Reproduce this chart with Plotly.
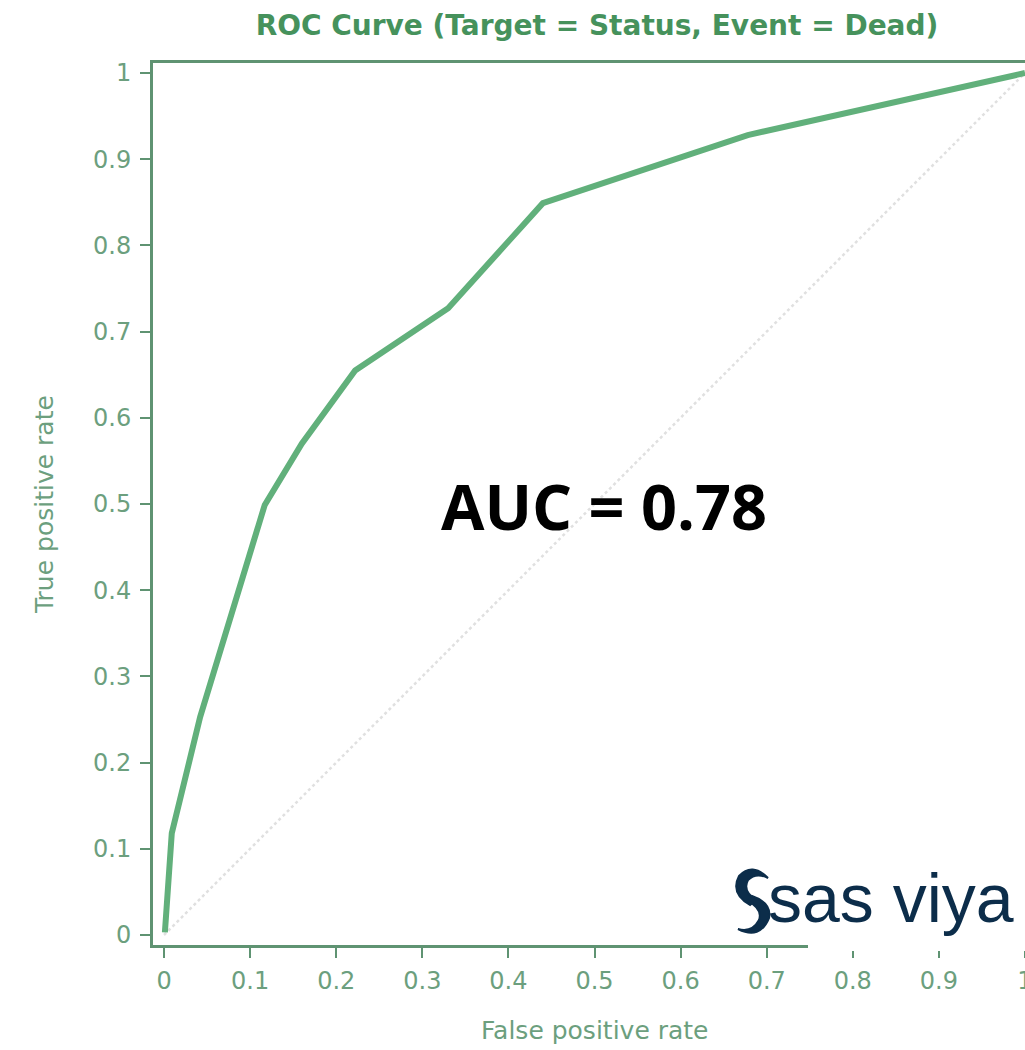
import plotly.graph_objects as go

# ROC curve data
fpr = [0.001, 0.009, 0.042, 0.117, 0.160, 0.222, 0.330, 0.440, 0.678, 1.0]
tpr = [0.003, 0.118, 0.253, 0.499, 0.570, 0.655, 0.727, 0.849, 0.928, 1.0]
diag_x = [0.0, 1.0]
diag_y = [0.0, 1.0]
tick_vals = [0, 0.1, 0.2, 0.3, 0.4, 0.5, 0.6, 0.7, 0.8, 0.9, 1]
tick_text = ["0", "0.1", "0.2", "0.3", "0.4", "0.5", "0.6", "0.7", "0.8", "0.9", "1"]

W, H = 1025, 1050
L, R, T, B = 153, 1025, 63, 945  # plot area in pixels

def px(x):
    return (x - L) / (R - L)

def py(y):
    return (B - y) / (B - T)

AXIS = "#5f9372"
TICKC = "#6c9f7e"
TITLEC = "#46925c"
CURVE = "#61b07b"
NAVY = "#0c2d4a"
FONT = "DejaVu Sans"

fig = go.Figure()
fig.add_trace(go.Scatter(x=diag_x, y=diag_y, mode="lines",
                         line=dict(color="#e0e0e0", width=2.5, dash="dot"),
                         hoverinfo="skip", showlegend=False))
fig.add_trace(go.Scatter(x=fpr, y=tpr, mode="lines",
                         line=dict(color=CURVE, width=6),
                         showlegend=False))

axis_common = dict(
    showgrid=False, zeroline=False, showline=True, linecolor=AXIS, linewidth=3,
    ticks="outside", ticklen=10, tickwidth=1.5, tickcolor=AXIS,
    tickvals=tick_vals, ticktext=tick_text, automargin=False,
    tickfont=dict(family=FONT, size=24, color=TICKC),
)
fig.update_xaxes(range=[-0.0128, 1.0], mirror=True, ticklabelstandoff=2,
                 ticklabeloverflow="allow", **axis_common)
fig.update_yaxes(range=[-0.0116, 1.0116], mirror=False, ticklabelstandoff=4, **axis_common)

fig.update_layout(
    width=W, height=H,
    margin=dict(l=L, r=W - R, t=T, b=H - B, autoexpand=False),
    paper_bgcolor="white", plot_bgcolor="white",
    title=dict(text="<b>ROC Curve (Target = Status, Event = Dead)</b>",
               x=597 / W, xanchor="center", y=1 - 25 / H, yanchor="middle",
               font=dict(family=FONT, size=28, color=TITLEC)),
)

# axis titles
fig.add_annotation(text="False positive rate", xref="paper", yref="paper",
                   x=px(595), y=py(1030), xanchor="center", yanchor="middle",
                   showarrow=False,
                   font=dict(family=FONT, size=25, color=TICKC))
fig.add_annotation(text="True positive rate", xref="paper", yref="paper",
                   x=px(45), y=py(505), xanchor="center", yanchor="middle",
                   showarrow=False, textangle=-90,
                   font=dict(family=FONT, size=25, color=TICKC))

# AUC label
fig.add_annotation(text="<b>AUC = 0.78</b>", xref="paper", yref="paper",
                   x=px(604), y=py(506), xanchor="center", yanchor="middle",
                   showarrow=False,
                   font=dict(family="Open Sans", size=63, color="black"))

# white box behind logo covering axis line
fig.add_shape(type="rect", xref="paper", yref="paper",
              x0=px(808), x1=px(1025), y0=py(951), y1=py(932),
              fillcolor="white", line=dict(width=0), layer="above")

# sas viya logo text
fig.add_annotation(text="sas viya", xref="paper", yref="paper",
                   x=px(766), y=py(898), xanchor="left", yanchor="middle",
                   showarrow=False,
                   font=dict(family="Liberation Sans", size=68, color=NAVY))

# swirl icon approximation
def P(x, y):
    return f"{px(x):.5f},{py(y):.5f}"

upper = (f"M {P(768,878)} Q {P(752,862)} {P(739,876)} "
         f"Q {P(730,893)} {P(750,905)} L {P(756,900)} "
         f"Q {P(742,891)} {P(748,880)} Q {P(756,872)} {P(768,878)} Z")
lower = (f"M {P(738,929)} Q {P(760,940)} {P(769,918)} "
         f"Q {P(772,903)} {P(752,896)} L {P(748,901)} "
         f"Q {P(763,909)} {P(759,920)} Q {P(752,933)} {P(738,929)} Z")
for p in (upper, lower):
    fig.add_shape(type="path", xref="paper", yref="paper", path=p,
                  fillcolor=NAVY, line=dict(color=NAVY, width=2), layer="above")

fig.write_html("out.html", config={"displayModeBar": False},
               post_script="document.body.style.margin='0';document.body.style.overflow='hidden';document.documentElement.style.overflow='hidden';")
